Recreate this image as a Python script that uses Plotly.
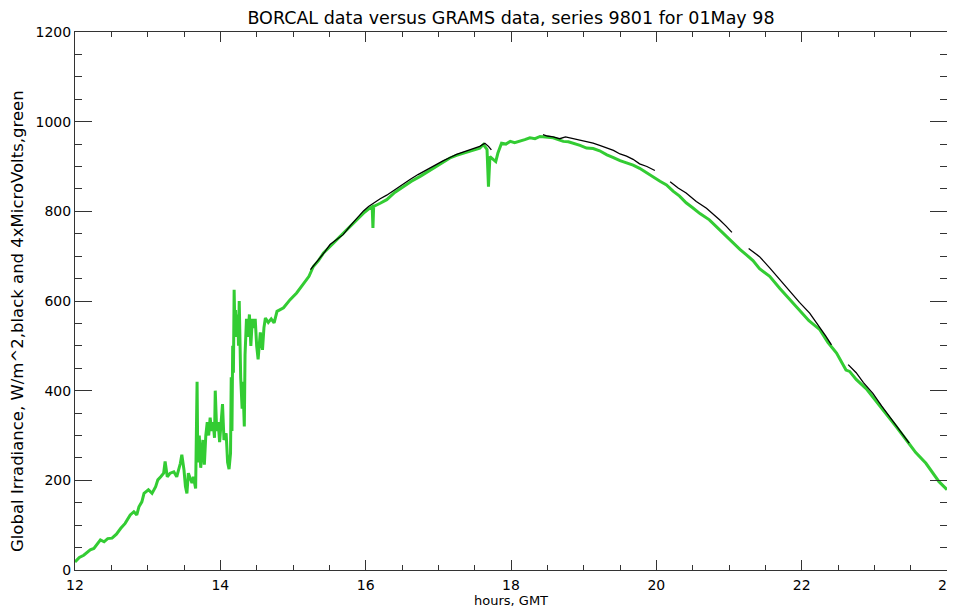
import plotly.graph_objects as go

# green: 4x microvolts (GRAMS), hours GMT
green_hours = [
    12.00, 12.06, 12.12, 12.21, 12.26, 12.35, 12.40, 12.45, 12.51, 12.57,
    12.63, 12.69, 12.76, 12.81, 12.85, 12.88, 12.92, 12.95, 13.01, 13.06,
    13.11, 13.14, 13.18, 13.22, 13.24, 13.27, 13.31, 13.36, 13.40, 13.45,
    13.47, 13.50, 13.52, 13.54, 13.56, 13.61, 13.63, 13.66, 13.68, 13.69,
    13.71, 13.73, 13.76, 13.78, 13.80, 13.82, 13.84, 13.86, 13.88, 13.90,
    13.92, 13.93, 13.95, 13.97, 13.99, 14.01, 14.03, 14.05, 14.08, 14.10,
    14.12, 14.14, 14.15, 14.16, 14.17, 14.18, 14.19, 14.20, 14.21, 14.22,
    14.24, 14.25, 14.26, 14.28, 14.30, 14.31, 14.33, 14.34, 14.36, 14.38,
    14.40, 14.42, 14.44, 14.46, 14.48, 14.50, 14.52, 14.55, 14.58, 14.60,
    14.62, 14.66, 14.70, 14.74, 14.78, 14.87, 14.96, 15.05, 15.15, 15.22,
    15.28, 15.35, 15.42, 15.50, 15.60, 15.70, 15.79, 15.88, 15.97, 16.04,
    16.09, 16.10, 16.11, 16.20, 16.29, 16.40, 16.52, 16.63, 16.75, 16.87,
    16.98, 17.07, 17.16, 17.25, 17.34, 17.45, 17.57, 17.62, 17.67, 17.69,
    17.71, 17.76, 17.79, 17.82, 17.87, 17.93, 17.99, 18.05, 18.12, 18.19,
    18.26, 18.33, 18.40, 18.49, 18.58, 18.65, 18.72, 18.79, 18.86, 18.95,
    19.04, 19.13, 19.22, 19.32, 19.41, 19.50, 19.59, 19.68, 19.77, 19.87,
    19.96, 20.05, 20.14, 20.23, 20.32, 20.41, 20.50, 20.60, 20.73, 20.85,
    20.95, 21.06, 21.15, 21.24, 21.33, 21.42, 21.56, 21.70, 21.84, 21.97,
    22.10, 22.25, 22.36, 22.48, 22.55, 22.61, 22.66, 22.75, 22.89, 23.02,
    23.16, 23.30, 23.44, 23.57, 23.71, 23.80, 23.89, 24.00,
]
green_values = [
    18, 28, 33, 45, 48, 67, 63, 70, 71, 80,
    93, 104, 123, 130, 123, 141, 152, 171, 179, 171,
    186, 201, 208, 216, 242, 208, 216, 219, 208, 238,
    257, 223, 186, 171, 216, 194, 208, 182, 420, 240,
    300, 228, 290, 235, 300, 330, 300, 340, 310, 330,
    295, 400, 310, 330, 285, 320, 370, 290, 305, 240,
    225, 260, 430, 310, 500, 440, 625, 540, 580, 520,
    570, 500, 600, 430, 360, 420, 320, 480, 560, 520,
    570, 500, 560, 540, 560, 500, 470, 530, 491, 540,
    562, 552, 560, 551, 577, 585, 603, 618, 640, 655,
    677, 690, 707, 720, 737, 752, 766, 781, 796, 805,
    810, 763, 811, 818, 826, 842, 856, 867, 878, 890,
    900, 910, 919, 925, 930, 935, 941, 949, 938, 855,
    922, 915, 911, 930, 952, 950, 956, 953, 956, 960,
    964, 962, 967, 966, 964, 960, 956, 955, 952, 947,
    941, 940, 935, 926, 920, 913, 908, 903, 896, 885,
    876, 867, 859, 845, 834, 819, 808, 795, 781, 762,
    745, 729, 715, 703, 690, 672, 655, 628, 603, 580,
    556, 536, 508, 484, 462, 446, 443, 425, 404, 378,
    350, 320, 290, 262, 238, 218, 197, 179,
]

# black: W/m^2 (BORCAL), None = gap
black_hours = [
    15.24, 15.30, 15.37, 15.44, 15.51, 15.60, 15.69, 15.79, 15.88, 15.97,
    16.04, 16.11, 16.20, 16.29, 16.38, 16.50, 16.61, 16.72, 16.84, 16.95,
    17.07, 17.16, 17.25, 17.34, 17.45, 17.57, 17.64, 17.69, 17.73, 17.74,
    18.44, 18.50, 18.58, 18.67, 18.75, 18.81, 18.90, 19.04, 19.13, 19.22,
    19.32, 19.41, 19.50, 19.59, 19.68, 19.77, 19.87, 19.98, 20.00,
    20.19, 20.30, 20.41, 20.55, 20.69, 20.78, 20.87, 20.96, 21.04, 21.05,
    21.27, 21.35, 21.42, 21.56, 21.65, 21.75, 21.84, 21.97, 22.11, 22.25,
    22.33, 22.41, 22.42,
    22.64, 22.75, 22.85, 22.98, 23.10, 23.21, 23.35, 23.48,
]
black_values = [
    670, 682, 695, 710, 726, 736, 748, 768, 785, 801,
    811, 819, 828, 836, 846, 860, 871, 882, 893, 903,
    913, 920, 927, 932, 938, 945, 952, 945, 937, None,
    971, 968, 966, 962, 966, 964, 960, 956, 952, 947,
    942, 936, 928, 923, 916, 906, 900, 891, None,
    866, 852, 841, 822, 807, 795, 781, 767, 753, None,
    717, 707, 699, 674, 657, 637, 620, 597, 573, 542,
    522, 502, None,
    458, 440, 418, 394, 366, 342, 312, 283,
]

x_ticks = [12, 14, 16, 18, 20, 22, 24]
y_ticks = [0, 200, 400, 600, 800, 1000, 1200]

AXIS_COLOR = "#333333"
FONT = "DejaVu Sans"

# the page body adds an 8px margin; the figure is shifted by that much
W, H = 955, 600
L, R, T, B = 67, 16, 24, 38
PW, PH = W - L - R, H - T - B

fig = go.Figure()

fig.add_trace(
    go.Scatter(
        x=green_hours,
        y=green_values,
        mode="lines",
        line=dict(color="#33cc33", width=3),
        name="GRAMS",
    )
)
fig.add_trace(
    go.Scatter(
        x=black_hours,
        y=black_values,
        mode="lines",
        line=dict(color="black", width=1.3),
        connectgaps=False,
        name="BORCAL",
    )
)

fig.update_layout(
    width=W,
    height=H,
    margin=dict(l=L, r=R, t=T, b=B),
    paper_bgcolor="white",
    plot_bgcolor="white",
    showlegend=False,
    font=dict(family=FONT, size=14, color="black"),
    title=dict(
        text="BORCAL data versus GRAMS data, series 9801 for 01May 98",
        xref="paper",
        x=0.5,
        xanchor="center",
        y=1 - 10 / H,
        yanchor="middle",
        font=dict(family=FONT, size=17.5, color="black"),
    ),
)

# axis titles placed by hand, like the original
fig.add_annotation(
    text="hours, GMT",
    xref="paper", yref="paper",
    x=0.5, y=-30 / PH,
    xanchor="center", yanchor="middle",
    showarrow=False,
    font=dict(size=13),
)
fig.add_annotation(
    text="Global Irradiance, W/m^2,black and 4xMicroVolts,green",
    xref="paper", yref="paper",
    x=-58 / PW, y=249 / PH,
    xanchor="center", yanchor="middle",
    textangle=-90,
    showarrow=False,
    font=dict(size=16.5),
)

fig.update_xaxes(
    range=[12, 24],
    tickvals=x_ticks,
    ticks="inside",
    ticklen=10,
    tickwidth=1,
    tickcolor=AXIS_COLOR,
    minor=dict(dtick=0.5, ticks="inside", ticklen=5, tickwidth=1, tickcolor=AXIS_COLOR),
    showline=True,
    linecolor=AXIS_COLOR,
    linewidth=1,
    mirror="ticks",
    showgrid=False,
    zeroline=False,
    automargin=False,
    ticklabeloverflow="allow",
    ticklabelstandoff=2,
    tickfont=dict(size=14),
)
fig.update_yaxes(
    range=[0, 1200],
    tickvals=y_ticks,
    ticks="inside",
    ticklen=17,
    tickwidth=1,
    tickcolor=AXIS_COLOR,
    minor=dict(dtick=50, ticks="inside", ticklen=7, tickwidth=1, tickcolor=AXIS_COLOR),
    showline=True,
    linecolor=AXIS_COLOR,
    linewidth=1,
    mirror="ticks",
    showgrid=False,
    zeroline=False,
    automargin=False,
    ticklabeloverflow="allow",
    tickfont=dict(size=14),
)

fig.write_html("out.html")
